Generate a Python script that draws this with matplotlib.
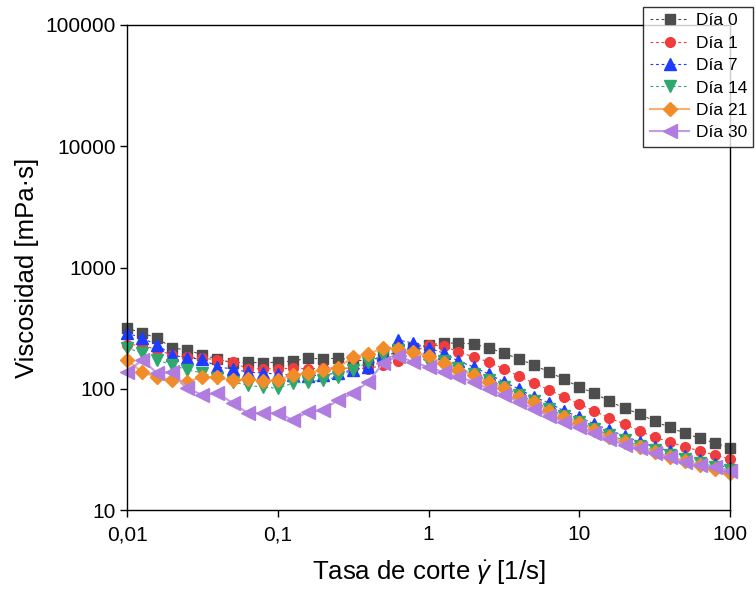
import numpy as np
import matplotlib
matplotlib.use("Agg")
import matplotlib.pyplot as plt
from matplotlib.ticker import FixedLocator, FixedFormatter, NullLocator

plt.rcParams['font.family'] = ['Liberation Sans', 'DejaVu Sans']
plt.rcParams['mathtext.fontset'] = 'custom'
plt.rcParams['mathtext.rm'] = 'Liberation Sans'
plt.rcParams['mathtext.it'] = 'Liberation Sans:italic'

# shear rate: 10 points per decade, 0.01 .. 100
shear_rate = [0.01, 0.0126, 0.0158, 0.02, 0.0251, 0.0316, 0.0398, 0.0501, 0.0631, 0.0794,
              0.1, 0.126, 0.158, 0.2, 0.251, 0.316, 0.398, 0.501, 0.631, 0.794,
              1.0, 1.26, 1.58, 2.0, 2.51, 3.16, 3.98, 5.01, 6.31, 7.94,
              10.0, 12.6, 15.8, 20.0, 25.1, 31.6, 39.8, 50.1, 63.1, 79.4, 100.0]

dia0 = [317, 288, 262, 217, 209, 190, 176, 163, 166, 163,
        166, 169, 179, 176, 179, 173, 169, 186, 201, 217,
        230, 238, 238, 234, 217, 197, 176, 157, 137, 120,
        103, 92, 79, 69, 62, 54, 48, 43, 39, 35.7, 32.5]
dia1 = [230, 230, 209, 190, 183, 179, 173, 166, 146, 146,
        146, 148, 146, 148, 148, 148, 146, 157, 169, 201,
        230, 225, 201, 183, 166, 146, 127, 111, 98, 85.5,
        74.9, 65.5, 57.4, 51.2, 44.8, 40, 36.4, 33.1, 30.7, 28.4, 26.3]
dia7 = [288, 262, 230, 190, 179, 176, 151, 146, 137, 135,
        132, 130, 127, 130, 135, 143, 151, 190, 252, 238,
        217, 197, 169, 151, 132, 114, 99.5, 85.5, 76.3, 65.5,
        58.5, 51.2, 45.7, 40.8, 36.4, 33.1, 30.7, 27.9, 25.8, 23.9, 22.2]
dia14 = [217, 197, 173, 157, 143, 135, 123, 114, 107, 103,
         101, 111, 114, 118, 125, 143, 166, 190, 209, 190,
         166, 168, 148, 133, 118, 104, 89, 79, 68, 60,
         53, 47, 41.5, 37.5, 34, 31, 28.5, 26.5, 24.5, 22.8, 21.3]
dia21 = [173, 137, 125, 118, 114, 125, 125, 118, 120, 116,
         118, 130, 135, 143, 148, 183, 193, 217, 213, 201,
         186, 163, 143, 130, 114, 101, 85.5, 77.8, 65.5, 58.5,
         52.2, 45.7, 40, 36.4, 33.1, 30.1, 27.4, 25.4, 23.5, 21.8, 20.2]
dia30 = [137, 173, 135, 137, 101, 88.8, 92, 76.3, 63.1, 63.1,
         63.1, 55.2, 64.3, 66.8, 80.8, 92, 114, 163, 186, 166,
         151, 137, 125, 114, 99.5, 88.8, 77.8, 68.1, 59.6, 53.2,
         48, 43, 38.5, 34.4, 32.5, 29.5, 27.4, 24.9, 23.5, 22.6, 21]

labels = ["Día 0", "Día 1", "Día 7", "Día 14", "Día 21", "Día 30"]
series = [dia0, dia1, dia7, dia14, dia21, dia30]
colors = ["#4D4D4D", "#F03C3C", "#1E3CFF", "#2FA86E", "#F28C28", "#B07CDF"]
line_colors = ["#4D4D4D", "#F03C3C", "#1E3CFF", "#2FA86E", "#F7B070", "#C49BE6"]
markers = ["s", "o", "^", "v", "D", "<"]
msizes = [6.5, 7, 8, 8, 7.5, 9.5]
lstyles = [(0, (2.5, 2.5))] * 4 + ["-", "-"]
lwidths = [0.8, 0.8, 0.8, 0.8, 1.5, 1.5]

fig = plt.figure(figsize=(7.56, 5.95), dpi=100)
ax = fig.add_axes([127 / 756, 1 - 510 / 595, (730 - 127) / 756, (510 - 25) / 595])

for y, lab, c, lc, m, ms, ls, lw in zip(series, labels, colors, line_colors, markers, msizes, lstyles, lwidths):
    ax.plot(shear_rate, y, color=lc, linestyle=ls, linewidth=lw, marker=m,
            markersize=ms, markerfacecolor=c, markeredgecolor=c, label=lab, clip_on=False)

ax.set_xscale("log")
ax.set_yscale("log")
ax.set_xlim(0.01, 100)
ax.set_ylim(10, 100000)

xticks = [0.01, 0.1, 1, 10, 100]
xticklabels = ["0,01", "0,1", "1", "10", "100"]
yticks = [10, 100, 1000, 10000, 100000]
yticklabels = ["10", "100", "1000", "10000", "100000"]
ax.xaxis.set_major_locator(FixedLocator(xticks))
ax.xaxis.set_major_formatter(FixedFormatter(xticklabels))
ax.yaxis.set_major_locator(FixedLocator(yticks))
ax.yaxis.set_major_formatter(FixedFormatter(yticklabels))
ax.xaxis.set_minor_locator(NullLocator())
ax.yaxis.set_minor_locator(NullLocator())
ax.tick_params(axis="both", which="major", direction="out", length=5, width=1,
               labelsize=15, pad=3, top=False, right=False)
ax.tick_params(axis="x", pad=6)
for sp in ax.spines.values():
    sp.set_linewidth(1)

ax.set_xlabel(r"Tasa de corte $\dot{\gamma}$ [1/s]", fontsize=18.5, labelpad=10)
ax.set_ylabel("Viscosidad [mPa·s]", fontsize=18.5, labelpad=5)

leg = fig.legend(loc="upper right", bbox_to_anchor=(753 / 756, 1 - 7 / 595),
                 fontsize=12.5, frameon=True, fancybox=False, edgecolor="black",
                 handlelength=2.3, borderpad=0.35, labelspacing=0.42, handletextpad=0.35,
                 borderaxespad=0)
leg.get_frame().set_linewidth(1)

fig.savefig("out.png", dpi=100)
